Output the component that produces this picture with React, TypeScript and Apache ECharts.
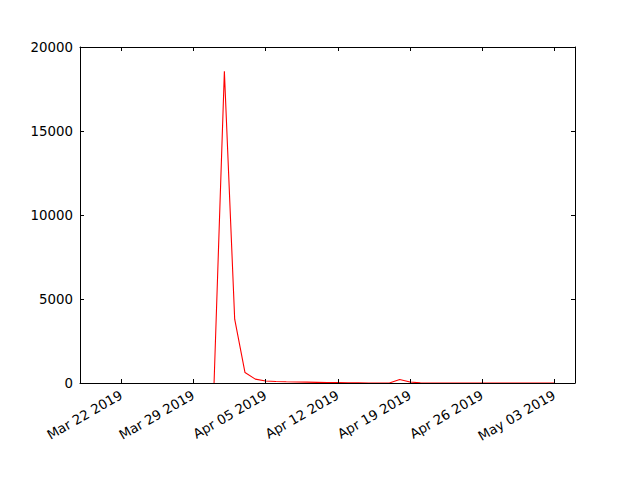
import React, { useEffect, useRef } from "react";
import * as echarts from "echarts";

// Days counted from Mar 18 2019
const startDate = "2019-03-18";
const dates = [
  "2019-03-31", "2019-04-01", "2019-04-02", "2019-04-03", "2019-04-04", "2019-04-05",
  "2019-04-06", "2019-04-07", "2019-04-08", "2019-04-09", "2019-04-10", "2019-04-11",
  "2019-04-12", "2019-04-13", "2019-04-14", "2019-04-15", "2019-04-16", "2019-04-17",
  "2019-04-18", "2019-04-19", "2019-04-20", "2019-04-21", "2019-04-22", "2019-04-23",
  "2019-04-24", "2019-04-25", "2019-04-26", "2019-04-27", "2019-04-28", "2019-04-29",
  "2019-04-30", "2019-05-01", "2019-05-02", "2019-05-03",
];
const values = [
  0, 18550, 3800, 620, 230, 120,
  90, 70, 60, 50, 40, 30,
  20, 10, 5, 0, 0, 0,
  210, 60, 5, 0, 0, 0,
  0, 0, 0, 0, 0, 0,
  0, 0, 0, 0,
];
const xTickDates = [
  "2019-03-22", "2019-03-29", "2019-04-05", "2019-04-12",
  "2019-04-19", "2019-04-26", "2019-05-03",
];
const xTickLabels = [
  "Mar 22 2019", "Mar 29 2019", "Apr 05 2019", "Apr 12 2019",
  "Apr 19 2019", "Apr 26 2019", "May 03 2019",
];
const yTicks = [0, 5000, 10000, 15000, 20000];
const xMaxDate = "2019-05-05";

const dayOffset = (d: string) =>
  Math.round((Date.UTC(+d.slice(0, 4), +d.slice(5, 7) - 1, +d.slice(8, 10)) -
    Date.UTC(+startDate.slice(0, 4), +startDate.slice(5, 7) - 1, +startDate.slice(8, 10))) / 86400000);

export default function App() {
  const ref = useRef<HTMLDivElement>(null);
  useEffect(() => {
    if (!ref.current) return;
    const chart = echarts.init(ref.current, null, { renderer: "svg" });
    const tickPos = xTickDates.map(dayOffset);
    const xMax = dayOffset(xMaxDate);
    const font = "DejaVu Sans";
    const commonX = {
      type: "value" as const,
      min: 0,
      max: xMax,
      splitLine: { show: false },
      axisLine: { onZero: false, lineStyle: { color: "#000", width: 1 } },
      axisTick: { inside: true, length: 4, customValues: tickPos, lineStyle: { color: "#000" } },
      z: 5,
    };
    const commonY = {
      type: "value" as const,
      min: yTicks[0],
      max: yTicks[yTicks.length - 1],
      interval: 5000,
      splitLine: { show: false },
      axisLine: { show: true, onZero: false, lineStyle: { color: "#000", width: 1 } },
      axisTick: { inside: true, length: 4, lineStyle: { color: "#000" } },
      z: 5,
    };
    chart.setOption({
      animation: false,
      backgroundColor: "#fff",
      grid: { left: 80, right: 65, top: 47, bottom: 97, containLabel: false },
      xAxis: [
        {
          ...commonX,
          position: "bottom",
          axisLabel: {
            customValues: tickPos,
            rotate: 30,
            margin: 11,
            color: "#000",
            fontFamily: font,
            fontSize: 13.33,
            formatter: (v: number) => {
              const i = tickPos.indexOf(Math.round(v));
              return i >= 0 ? xTickLabels[i] : "";
            },
          },
        },
        { ...commonX, position: "top", axisLabel: { show: false } },
      ],
      yAxis: [
        {
          ...commonY,
          position: "left",
          axisLabel: {
            color: "#000",
            fontFamily: font,
            fontSize: 13.33,
            margin: 7,
            formatter: (v: number) => String(v),
          },
        },
        { ...commonY, position: "right", axisLabel: { show: false } },
      ],
      series: [
        {
          type: "line",
          xAxisIndex: 0,
          yAxisIndex: 0,
          data: dates.map((d, i) => [dayOffset(d), values[i]]),
          showSymbol: false,
          symbol: "none",
          lineStyle: { color: "#ff0000", width: 1.1 },
          z: 2,
        },
      ],
    });
    return () => chart.dispose();
  }, []);
  return <div ref={ref} style={{ width: 640, height: 480, position: "absolute", left: 0, top: 0 }} />;
}
